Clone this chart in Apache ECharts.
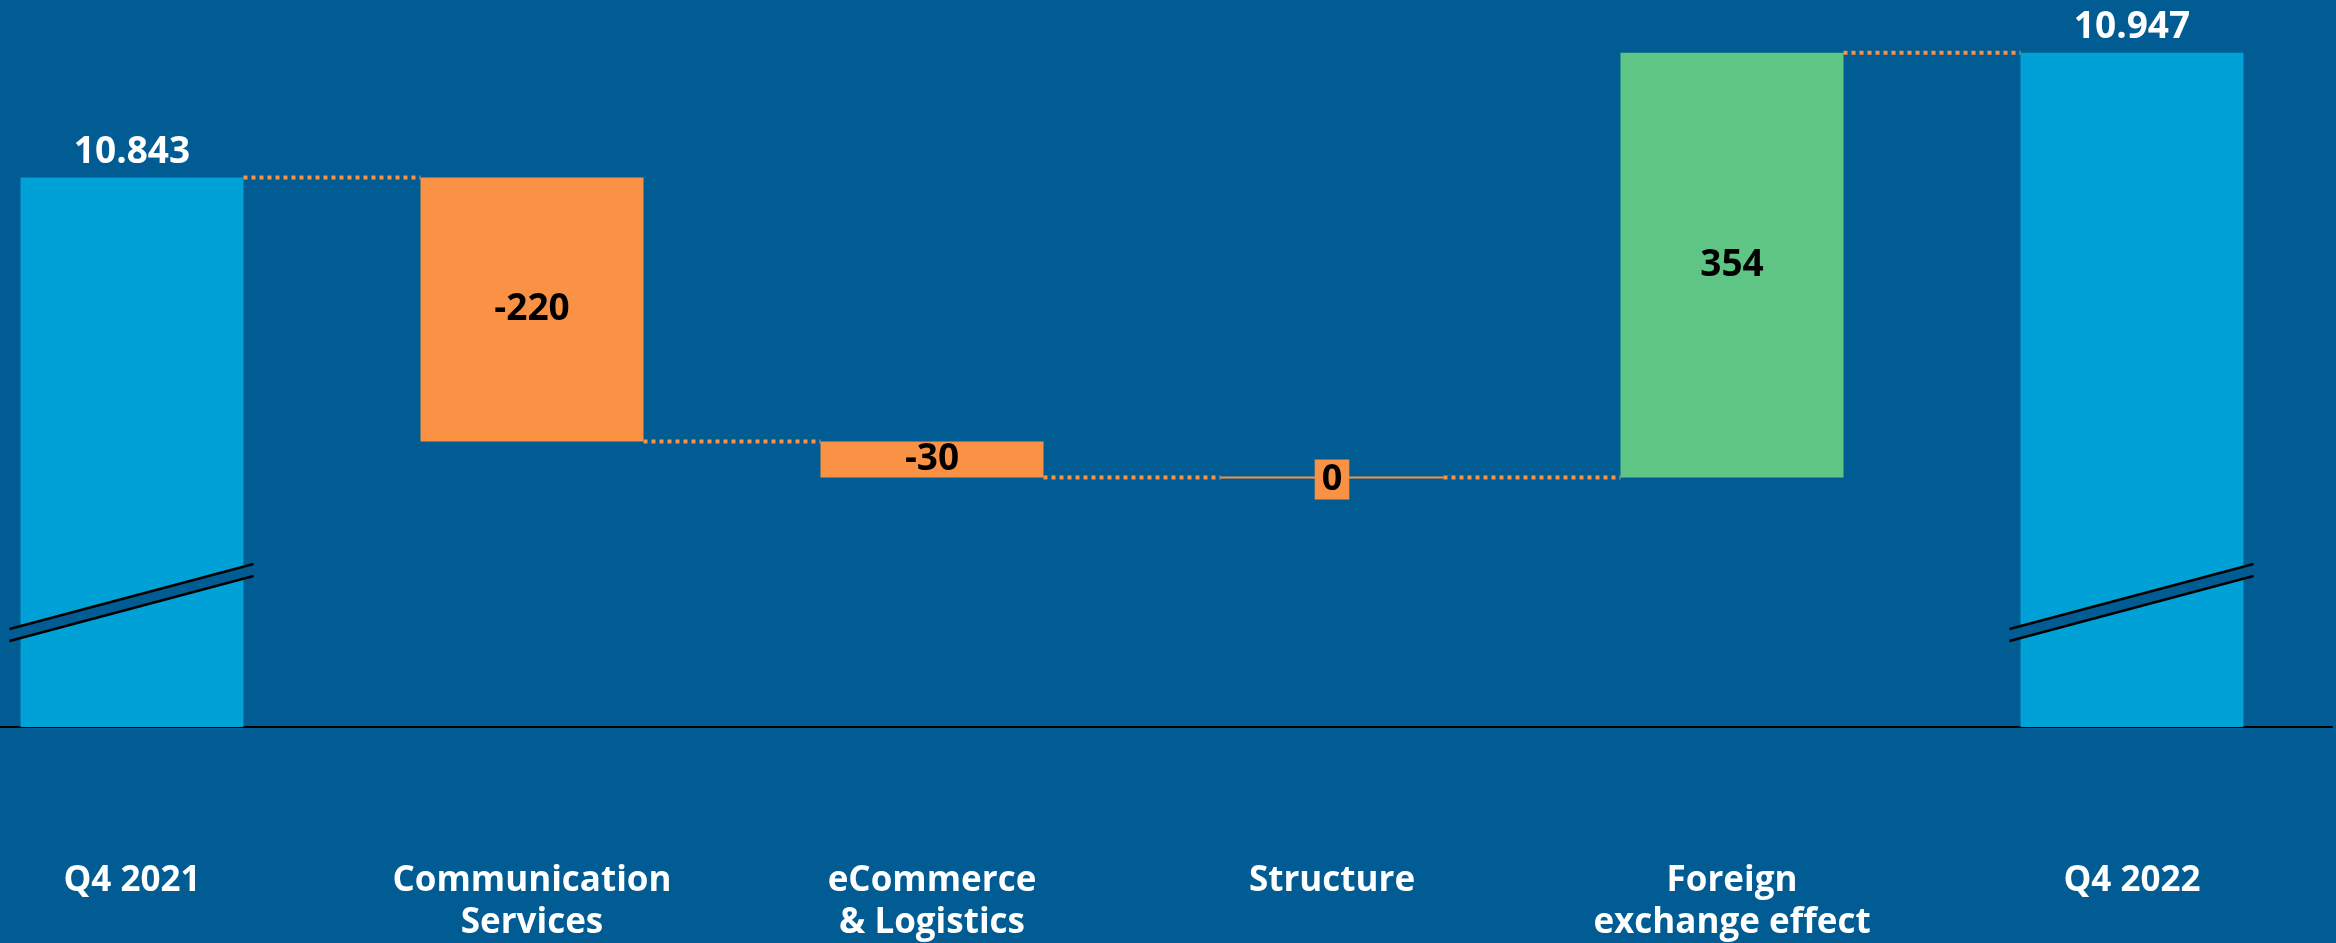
<!DOCTYPE html>
<html>
<head>
<meta charset="utf-8">
<script src="https://cdn.jsdelivr.net/npm/echarts@6/dist/echarts.min.js"></script>
<style>
    html, body { margin: 0; padding: 0; background: #005c93; }
    #chart { width: 2336px; height: 943px; }
</style>
</head>
<body>
<div id="chart"></div>
<script>
// waterfall: Q4 2021 -> Q4 2022
const categories = ["Q4 2021", "Communication\nServices", "eCommerce\n& Logistics", "Structure", "Foreign\nexchange effect", "Q4 2022"];
const values = [10843, -220, -30, 0, 354, 10947];
const isTotal = [true, false, false, false, false, true];
const yMin = 10385;
const yMax = 10991;

const BG = "#005c93";
const BLUE = "#00a1d7";
const ORANGE = "#f99244";
const GREEN = "#5ec585";
const FONT = "\"Open Sans\", sans-serif";

// build [index, low, high, value, total, level] rows for the custom series
let running = 0;
const rows = values.map((v, i) => {
    let low, high;
    if (isTotal[i]) {
        low = yMin;
        high = v;
        running = v;
    } else {
        const start = running;
        running = start + v;
        low = Math.min(start, running);
        high = Math.max(start, running);
    }
    return [i, low, high, v, isTotal[i] ? 1 : 0, running];
});

function fmt(v, total) {
    if (total) return String(v).replace(/\B(?=(\d{3})+(?!\d))/g, ".");
    return String(v);
}

function renderItem(params, api) {
    const i = api.value(0);
    const low = api.value(1);
    const high = api.value(2);
    const v = api.value(3);
    const tot = api.value(4) === 1;
    const level = api.value(5);
    const bw = api.size([1, 0])[0] * 0.5575;
    const pTop = api.coord([i, high]);
    const pBot = api.coord([i, low]);
    const x0 = pTop[0] - bw / 2;
    const x1 = pTop[0] + bw / 2;
    const children = [];
    const color = tot ? BLUE : v > 0 ? GREEN : ORANGE;

    if (!tot && v === 0) {
        children.push({
            type: "line",
            shape: { x1: x0, y1: pTop[1], x2: x1, y2: pTop[1] },
            style: { stroke: ORANGE, lineWidth: 2 },
        });
    } else {
        children.push({
            type: "rect",
            shape: { x: x0, y: pTop[1], width: bw, height: pBot[1] - pTop[1] },
            style: { fill: color },
        });
    }

    // dotted connector to next bar
    if (i < rows.length - 1) {
        const pl = api.coord([i, level]);
        const pn = api.coord([i + 1, level]);
        children.push({
            type: "line",
            shape: { x1: x1, y1: pl[1], x2: pn[0] - bw / 2, y2: pl[1] },
            style: { stroke: ORANGE, lineWidth: 4, lineDash: [4, 4] },
        });
    }

    // axis break on the total bars
    if (tot) {
        const b = pBot[1];
        const lx = x0 - 11;
        const rx = x1 + 10;
        children.push({
            type: "polygon",
            shape: { points: [[lx, b - 98], [rx, b - 163], [rx, b - 151], [lx, b - 86]] },
            style: { fill: BG },
        });
        children.push({
            type: "line",
            shape: { x1: lx, y1: b - 98, x2: rx, y2: b - 163 },
            style: { stroke: "#000", lineWidth: 2.5 },
        });
        children.push({
            type: "line",
            shape: { x1: lx, y1: b - 86, x2: rx, y2: b - 151 },
            style: { stroke: "#000", lineWidth: 2.5 },
        });
        children.push({
            type: "text",
            style: {
                text: fmt(v, true),
                x: pTop[0],
                y: pTop[1] - 25,
                fill: "#fff",
                font: "bold 37px " + FONT,
                align: "center",
                verticalAlign: "middle",
            },
        });
    } else if (v === 0) {
        children.push({
            type: "text",
            style: {
                text: fmt(v, false),
                x: pTop[0],
                y: pTop[1] + 2,
                fill: "#000",
                font: "bold 36px " + FONT,
                align: "center",
                verticalAlign: "middle",
                backgroundColor: ORANGE,
                lineHeight: 36,
                padding: [2, 7],
            },
        });
    } else {
        children.push({
            type: "text",
            style: {
                text: fmt(v, false),
                x: pTop[0],
                y: (pTop[1] + pBot[1]) / 2,
                fill: "#000",
                font: "bold 37px " + FONT,
                align: "center",
                verticalAlign: "middle",
            },
        });
    }

    return { type: "group", children: children };
}

const chart = echarts.init(document.getElementById("chart"));

chart.setOption({
    backgroundColor: BG,
    animation: false,
    grid: { left: -68, right: 4, top: 0, bottom: 216, outerBoundsMode: "none", containLabel: false },
    xAxis: {
        type: "category",
        data: categories,
        axisTick: { show: false },
        axisLine: { lineStyle: { color: "#000", width: 2 } },
        axisLabel: {
            interval: 0,
            color: "#fff",
            fontFamily: FONT,
            fontWeight: "bold",
            fontSize: 35,
            lineHeight: 42,
            margin: 133,
            verticalAlign: "top",
        },
    },
    yAxis: {
        type: "value",
        min: yMin,
        max: yMax,
        show: false,
        splitLine: { show: false },
    },
    series: [
        {
            type: "custom",
            renderItem: renderItem,
            clip: false,
            encode: { x: 0, y: [1, 2] },
            data: rows,
        },
    ],
});
</script>
</body>
</html>
